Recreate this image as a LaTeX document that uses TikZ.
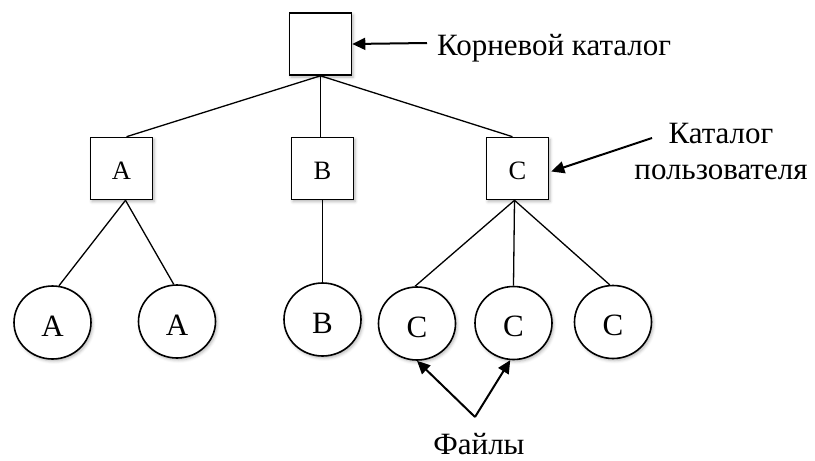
\documentclass[tikz,border=0pt]{standalone}
\usepackage{fontspec}
\setmainfont{Liberation Serif}
\usetikzlibrary{arrows.meta,shapes.geometric,shadows.blur}
\begin{document}
\begin{tikzpicture}[x=1pt,y=-1pt,
  every node/.style={font=\fontsize{31}{36}\selectfont},
  softshadow/.style={blur shadow={shadow xshift=1.5pt,shadow yshift=-2pt,shadow blur radius=3pt,shadow opacity=30}},
  dirbox/.style={draw,line width=1.6pt,fill=white,minimum width=62pt,minimum height=62pt,inner sep=0pt,softshadow,
    font=\fontsize{26.5}{30}\selectfont,text height=21.5pt,text depth=0pt},
  filenode/.style={ellipse,draw,line width=1.6pt,fill=white,minimum width=77pt,minimum height=73pt,inner sep=0pt,softshadow,
    font=\fontsize{31}{36}\selectfont,text height=27.5pt,text depth=0pt},
  treeedge/.style={line width=1.3pt},
  ptr/.style={line width=2pt,-{Triangle[length=13pt,width=12pt]}}
]
\useasboundingbox (0,0) rectangle (815,461);

% directories
\node[dirbox] (root) at (320.5,44) {};
\node[dirbox] (A) at (121.5,168.5) {A};
\node[dirbox] (B) at (322.5,168.5) {B};
\node[dirbox] (C) at (517.5,168.5) {C};

% files
\node[filenode] (A1) at (52.5,322.5) {A};
\node[filenode] (A2) at (177,321.5) {A};
\node[filenode] (B1) at (322.5,319.5) {B};
\node[filenode] (C1) at (417,323.5) {C};
\node[filenode] (C2) at (513.5,323) {C};
\node[filenode] (C3) at (613,322) {C};

% tree edges
\draw[treeedge] (root.south) -- ([xshift=5pt]A.north);
\draw[treeedge] (root.south) -- (root.south |- B.north);
\draw[treeedge] (root.south) -- ([xshift=-5pt]C.north);
\draw[treeedge] ([xshift=4pt]A.south) -- (A1.80);
\draw[treeedge] ([xshift=4pt]A.south) -- (A2.95);
\draw[treeedge] (B.south) -- (B1.north);
\draw[treeedge] ([xshift=-3pt]C.south) -- (C1.93);
\draw[treeedge] ([xshift=-3pt]C.south) -- (C2.north);
\draw[treeedge] ([xshift=-3pt]C.south) -- (C3.95);

% labels
\node[anchor=base west,inner sep=0pt] (rootlbl) at (437,55) {Корневой каталог};
\node[align=center,anchor=base,inner sep=0pt] (userlbl) at (721,179) {Каталог\\пользователя};
\node[anchor=base,inner sep=0pt] (fileslbl) at (479,454) {Файлы};

% pointers
\coordinate (rootptr) at (427,43);
\coordinate (userptr) at (652,138);
\coordinate (filesptr) at (475,417);
\draw[ptr] (rootptr) -- (root.east);
\draw[ptr] (userptr) -- ([shift={(2,3)}]C.east);
\draw[ptr] (filesptr) -- (C1.south);
\draw[ptr] (filesptr) -- (C2.265);
\end{tikzpicture}
\end{document}
